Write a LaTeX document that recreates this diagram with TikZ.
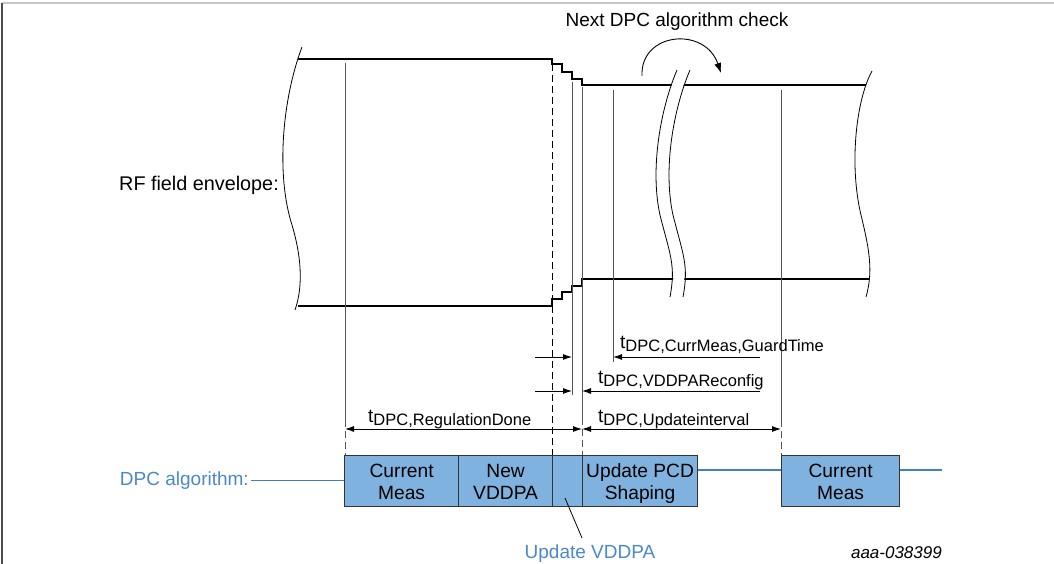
\documentclass[tikz,border=0pt]{standalone}
\usepackage{fontspec}
\setmainfont{Liberation Sans}
\usetikzlibrary{arrows.meta,calc}
\definecolor{boxblue}{HTML}{7FB2DF}
\definecolor{lineblue}{HTML}{3D80CC}
\definecolor{txtblue}{HTML}{4A88CC}
\definecolor{vgray}{HTML}{555555}
\definecolor{boxedge}{HTML}{333333}
\newcommand{\tdpc}[1]{{\fontsize{19}{22}\selectfont t}{\fontsize{16.5}{20}\selectfont\raisebox{-3pt}{DPC,#1}}}
\begin{document}
\begin{tikzpicture}[x=1pt,y=-1pt,
  env/.style={line width=2.6pt, line join=miter},
  vline/.style={draw=vgray, line width=0.9pt},
  dline/.style={draw=vgray, line width=0.9pt, dash pattern=on 7pt off 4pt},
  wavy/.style={draw=black, line width=0.8pt},
  arr/.style={draw=black, line width=0.9pt, -{Latex[length=9pt,width=6pt]}},
  darr/.style={draw=black, line width=0.9pt, {Latex[length=9pt,width=6pt]}-{Latex[length=9pt,width=6pt]}},
  txt/.style={font=\fontsize{19}{22}\selectfont, inner sep=0pt},
  lbl/.style={inner sep=0pt, anchor=base west},
  box/.style={draw=boxedge, line width=1.2pt, fill=boxblue, anchor=north west,
    minimum height=51pt, inner sep=0pt},
  boxtxt/.style={inner sep=0pt, align=center, yshift=-2.5pt, font=\fontsize{19.2}{22}\selectfont},
  bline/.style={draw=lineblue, line width=1.1pt}]
\useasboundingbox (0,0) rectangle (1054,564);
% frame
\draw[draw=black!22, line width=1.2pt] (2,3) -- (1054,3);
\draw[draw=black!70, line width=1.4pt] (2,3) -- (2,564);

% envelope
\draw[env] (298,59) -- (552,59) -- (552,64) -- (562,64) -- (562,72) -- (572,72)
  -- (572,79) -- (582,79) -- (582,85) -- (866,85);
\draw[env] (298,306) -- (552,306) -- (552,299) -- (562,299) -- (562,292) -- (572,292)
  -- (572,286) -- (582,286) -- (582,279) -- (869,279);

% wavy boundaries
\draw[wavy] (302,47) .. controls (282,100) and (276,175) .. (292,225)
  .. controls (303,262) and (302,290) .. (295,310);
\draw[wavy] (872,71) .. controls (856,100) and (849,165) .. (861,215)
  .. controls (870,252) and (873,272) .. (866,297);

% vertical markers
\draw[vline] (345,63) -- (345,420);
\draw[dline] (345,420) -- (345,455);
\draw[dash pattern=on 7pt off 4pt, line width=0.9pt] (552,64) -- (552,455);
\draw[vline] (572,82) -- (572,395);
\draw[vline] (582,87) -- (582,418);
\draw[dline] (582,418) -- (582,455);
\draw[vline] (613,90) -- (613,362);
\draw[vline] (781,90) -- (781,420);
\draw[dline] (781,420) -- (781,455);

% break symbol
\draw[white, line width=11pt] (683.5,70) .. controls (666.5,110) and (656.5,170) .. (666.5,215)
  .. controls (676.5,255) and (682.5,265) .. (676.5,297);
\draw[wavy] (677,70) .. controls (660,110) and (650,170) .. (660,215)
  .. controls (670,255) and (676,265) .. (670,297);
\draw[wavy] (690,70) .. controls (673,110) and (663,170) .. (673,215)
  .. controls (683,255) and (689,265) .. (683,297);

% next check arrow
\node[txt, anchor=base] (next) at (677,27) {Next DPC algorithm check};
\draw[line width=0.9pt, -{Latex[length=10pt,width=7pt]}] (642,76) .. controls (640,32) and (705,26) .. (721,73);

% RF label
\node[txt, anchor=base east, font=\fontsize{19.8}{22}\selectfont] (rf) at (279,190) {RF field envelope:};

% timing arrows
\draw[arr] (760,357) -- (613,357);
\draw[arr] (535,357) -- (572,357);
\draw[arr] (760,391) -- (582,391);
\draw[arr] (535,391) -- (572,391);
\draw[darr] (345,429) -- (582,429);
\draw[darr] (582,429) -- (781,429);

\node[lbl] (l1) at (620,348) {\tdpc{CurrMeas,GuardTime}};
\node[lbl] (l2) at (598,383) {\tdpc{VDDPAReconfig}};
\node[lbl] (l3) at (598,422) {\tdpc{Updateinterval}};
\node[lbl] (l4) at (368,422) {\tdpc{RegulationDone}};

% boxes
\node[box, minimum width=114pt] (cm1) at (344,455) {};
\node[box, minimum width=94pt] (nv) at (458,455) {};
\node[box, minimum width=30pt] (uv) at (552,455) {};
\node[box, minimum width=115pt] (pcd) at (582,455) {};
\node[box, minimum width=118pt] (cm2) at (781,455) {};
\node[boxtxt] (cm1t) at (cm1.center) {Current\strut\\Meas\strut};
\node[boxtxt] (nvt) at (nv.center) {New\strut\\VDDPA\strut};
\node[boxtxt] (pcdt) at (pcd.center) {Update PCD\strut\\Shaping\strut};
\node[boxtxt] (cm2t) at (cm2.center) {Current\strut\\Meas\strut};

% blue connections
\node[txt, text=txtblue, anchor=east, inner sep=2pt] (dpc) at (251,480.5) {DPC algorithm:};
\draw[bline] (dpc.east) -- (dpc.east -| cm1.west);
\draw[bline] ([yshift=-15pt]pcd.north east) -- ([yshift=-15pt]cm2.north west);
\coordinate (tail) at (942,470);
\draw[bline] ([yshift=-15pt]cm2.north east) -- (tail);

% update VDDPA pointer
\node[txt, text=txtblue, anchor=base] (uvl) at (590,558) {Update VDDPA};
\coordinate (uvp) at (565,498);
\draw[line width=0.8pt] (uvp) -- (582,538);

% figure id
\node[inner sep=0pt, anchor=base east, font=\fontsize{17}{20}\selectfont\itshape] (id) at (942,558) {aaa-038399};
\end{tikzpicture}
\end{document}
